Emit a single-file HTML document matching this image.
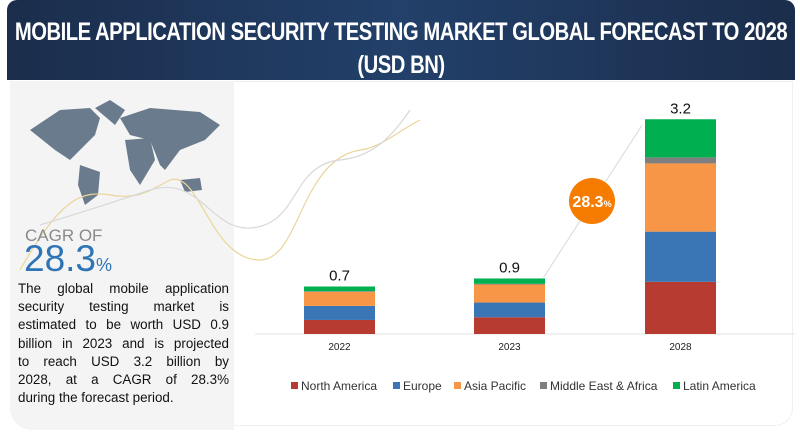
<!DOCTYPE html>
<html><head><meta charset="utf-8"><style>
body{margin:0;width:800px;height:432px;background:#fff;position:relative;overflow:hidden;font-family:"Liberation Sans",sans-serif}
#hdr{position:absolute;left:7px;top:0;width:788px;height:80px;background:linear-gradient(90deg,#1b2d4b,#22406a 50%,#1b2d4b);border-radius:10px 10px 0 0}
#left{position:absolute;left:10px;top:81px;width:224px;height:349px;background:#f4f4f4;border-radius:0 0 0 22px}
#right{position:absolute;left:234px;top:81px;width:558px;height:343px;border:1px solid #f0f0f0;border-left:none;border-radius:0 0 18px 0}
.t{position:absolute;white-space:nowrap}
.ln{text-align:justify;text-align-last:justify;height:18.2px}
.tl{position:absolute;left:401px;white-space:nowrap;color:#fff;font-weight:bold;font-size:25px;letter-spacing:-0.6px;transform:translateX(-50%) scaleX(0.81)}
</style></head><body>
<div id="hdr"></div>
<div class="tl" style="top:18px">MOBILE APPLICATION SECURITY TESTING MARKET GLOBAL FORECAST TO 2028</div>
<div class="tl" style="top:51px">(USD BN)</div>
<div id="left"></div>
<div id="right"></div>
<svg width="800" height="432" style="position:absolute;left:0;top:0">
<path d="M30 130 L60 110 L90 108 L100 118 L95 135 L80 150 L70 160 L55 150 Z" fill="#6b7b8e"/>
<path d="M80 165 L100 172 L98 195 L85 205 L78 185 Z" fill="#6b7b8e"/>
<path d="M95 108 L110 100 L125 110 L115 125 Z" fill="#6b7b8e"/>
<path d="M120 118 L150 108 L200 112 L220 125 L205 140 L180 150 L165 170 L160 165 L150 140 L130 135 Z" fill="#6b7b8e"/>
<path d="M125 140 L150 138 L155 160 L140 185 L130 170 Z" fill="#6b7b8e"/>
<path d="M180 180 L200 178 L202 190 L185 192 Z" fill="#6b7b8e"/>
<path d="M20 270 C60 200,80 190,110 195 C140 200,150 190,170 180 C200 170,210 260,260 260 C300 260,300 160,360 150 C380 148,400 130,420 120" stroke="#e9d59a" fill="none" stroke-width="1.2"/>
<path d="M40 225 C90 210,120 200,150 190 C200 175,210 230,250 228 C300 225,290 165,340 160 C370 157,390 140,410 110" stroke="#d8d8d8" fill="none" stroke-width="1.2"/>
</svg>
<div class="t" style="left:25px;top:226px;font-size:17px;color:#8a8a8a">CAGR OF</div>
<div class="t" style="left:24px;top:238px;font-size:37px;color:#2e75b6">28.3<span style="font-size:18px">%</span></div>
<div class="t" style="left:18px;top:280px;width:211px;white-space:normal;font-size:13.4px;line-height:18.2px;color:#111">
<div class="ln">The global mobile application</div>
<div class="ln">security testing market is</div>
<div class="ln">estimated to be worth USD 0.9</div>
<div class="ln">billion in 2023 and is projected</div>
<div class="ln">to reach USD 3.2 billion by</div>
<div class="ln">2028, at a CAGR of 28.3%</div>
<div style="height:18.2px">during the forecast period.</div>
</div>
<svg id="chart" width="800" height="432" style="position:absolute;left:0;top:0"></svg>
<script>
const years=["2022","2023","2028"];
const totals=["0.7","0.9","3.2"];
const northAmerica=[0.21,0.25,0.78];
const europe=[0.21,0.22,0.75];
const asiaPacific=[0.21,0.27,1.02];
const mea=[0.01,0.01,0.09];
const latinAmerica=[0.07,0.08,0.57];
const seriesNames=["North America","Europe","Asia Pacific","Middle East & Africa","Latin America"];
const colors=["#b83b32","#3a76b5","#f79646","#7f7f7f","#00b050"];
const series=[northAmerica,europe,asiaPacific,mea,latinAmerica];
const NS="http://www.w3.org/2000/svg",svg=document.getElementById('chart');
const base=334,scale=66.9,xc=[339.5,509.5,680.5],bw=71;
const x=i=>xc[i]-bw/2, y=v=>base-v*scale;
function mk(t,a){const e=document.createElementNS(NS,t);for(const k in a)e.setAttribute(k,a[k]);svg.appendChild(e);return e;}
let l=mk('line',{x1:255,x2:795,y1:base,y2:base,stroke:'#e3e3e3'});


const tops=[];
years.forEach((yr,i)=>{let c=0;series.forEach((s,j)=>{const r=mk('rect',{x:x(i),y:y(c+s[i]),width:bw,height:s[i]*scale,fill:colors[j]});


c+=s[i];});tops.push(y(c));
const tl=mk('text',{x:xc[i],y:y(c)-6,'text-anchor':'middle','font-size':15,fill:'#111','font-family':'Liberation Sans'});tl.textContent=totals[i];


const yl=mk('text',{x:xc[i],y:350,'text-anchor':'middle','font-size':10,fill:'#222','font-family':'Liberation Sans'});yl.textContent=yr;

});
const ar=mk('line',{x1:xc[1]+34,y1:tops[1]-1,x2:x(2)-3,y2:tops[2]+6,stroke:'#d9d9d9','stroke-width':1});


const bc=mk('circle',{cx:592,cy:201,r:23,fill:'#f57c00'});


const bt=mk('text',{x:592,y:207,'text-anchor':'middle','font-size':16,'font-weight':'bold',fill:'#fff','font-family':'Liberation Sans'});bt.innerHTML='28.3<tspan font-size="9">%</tspan>';


const lx=[291,393,454,540,673];
seriesNames.forEach((n,j)=>{const g=mk('g',{});


const r=document.createElementNS(NS,'rect');r.setAttribute('x',lx[j]);r.setAttribute('y',382);r.setAttribute('width',7);r.setAttribute('height',7);r.setAttribute('fill',colors[j]);g.appendChild(r);
const t=document.createElementNS(NS,'text');t.setAttribute('x',lx[j]+10);t.setAttribute('y',390);t.setAttribute('font-size',12);t.setAttribute('fill','#333');t.setAttribute('font-family','Liberation Sans');t.textContent=n;g.appendChild(t);});
</script>
</body></html>
